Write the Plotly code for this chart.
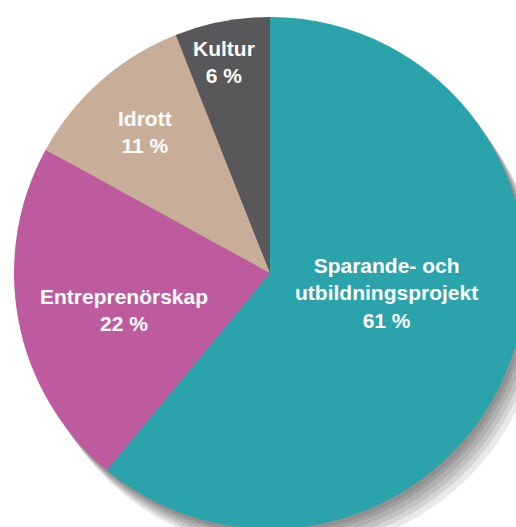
import plotly.graph_objects as go

labels = ["Sparande- och<br>utbildningsprojekt", "Entreprenörskap", "Idrott", "Kultur"]
values = [61, 22, 11, 6]
colors = ["#2BA3AA", "#BE5A9E", "#C8AD98", "#58585B"]
# label centres in pixels (x, y from top)
label_px = [(386, 293), (124, 310), (145, 132), (224, 62)]

W, H = 570, 570
cx, cy, R = 270, 273, 256

def dom(dx=0, dy=0):
    return dict(x=[(cx - R + dx) / W, (cx + R + dx) / W],
                y=[(H - (cy + R + dy)) / H, (H - (cy - R + dy)) / H])

fig = go.Figure()
# soft shadow layers
for d in [24, 19, 15, 11, 7, 4]:
    fig.add_trace(go.Pie(values=[1], marker=dict(colors=["rgba(0,0,0,0.085)"], line=dict(width=0)),
                         textinfo="none", hoverinfo="skip", showlegend=False,
                         domain=dom(d * 0.7, d), sort=False))

fig.add_trace(go.Pie(labels=labels, values=values, sort=False, direction="clockwise", rotation=0,
                     marker=dict(colors=colors, line=dict(width=0)),
                     textinfo="none", showlegend=False, domain=dom()))

for lab, v, (px, py) in zip(labels, values, label_px):
    fig.add_annotation(x=px / W, y=1 - py / H, xref="paper", yref="paper",
                       text=f"{lab}<br>{v} %", showarrow=False,
                       font=dict(family="Liberation Sans, Arial, sans-serif", size=21, color="white"),
                       align="center", xanchor="center", yanchor="middle")

fig.update_layout(width=W, height=H, margin=dict(l=0, r=0, t=0, b=0),
                  paper_bgcolor="white", plot_bgcolor="white",
                  font=dict(family="Liberation Sans, Arial, sans-serif"))

# bold text via HTML
for a in fig.layout.annotations:
    a.text = "<b>" + a.text.replace("<br>", "</b><br><b>") + "</b>"

fig.write_html("out.html", post_script="document.body.style.overflow='hidden';document.documentElement.style.overflow='hidden';")
